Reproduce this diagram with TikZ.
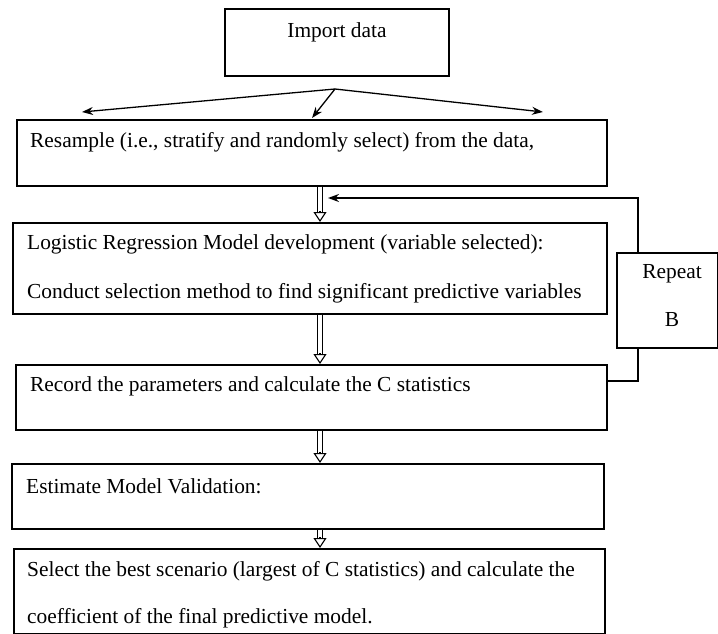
\documentclass[tikz,border=0pt]{standalone}
\usepackage{fontspec}
\setmainfont{Liberation Serif}
\usetikzlibrary{arrows.meta}
\begin{document}
\begin{tikzpicture}[x=1pt,y=-1pt,
  box/.style={draw, line width=1.7pt, fill=white, inner sep=0pt, anchor=north west},
  txt/.style={font=\fontsize{21.4}{24}\selectfont, inner sep=0pt, anchor=west, text height=14pt, text depth=4pt},
  ctxt/.style={txt, anchor=center},
  thinarrow/.style={line width=1.3pt, -{Stealth[length=11pt,width=8pt]}},
  fbline/.style={line width=1.6pt, -{Stealth[length=11pt,width=8pt]}},
  dblshaft/.style={double, double distance=4.5pt, line width=1.1pt, shorten >=9pt},
  dblhead/.style={line width=1.1pt, -{Triangle[open,fill=white,length=10pt,width=13pt]}}
]
\useasboundingbox (0,0) rectangle (718,634);

% feedback loop corner and end
\coordinate (fbc) at (638,198);
\coordinate (fbend) at (328,198);

% boxes
\node[box, minimum width=224pt, minimum height=67pt] (imp) at (224,8) {};
\node[box, minimum width=590pt, minimum height=66pt] (rs) at (16,119) {};
\node[box, minimum width=594pt, minimum height=91pt] (lr) at (12,222) {};
\node[box, minimum width=591pt, minimum height=65pt] (rc) at (15,364) {};
\node[box, minimum width=592pt, minimum height=65pt] (em) at (11,463) {};
\node[box, minimum width=591pt, minimum height=85pt] (sb) at (13,548) {};

\draw[fbline] ([yshift=16.5pt]rc.east) -| (fbc) -- (fbend);
\node[box, minimum width=101pt, minimum height=95pt] (rp) at (616,252) {};

% texts
\node[ctxt] (impt) at (337,32.5) {Import data};
\node[txt] (rst) at (30,142.5) {Resample (i.e., stratify and randomly select) from the data,};
\node[txt] (lrt1) at (27,244.5) {Logistic Regression Model development (variable selected):};
\node[txt] (lrt2) at (27,293.5) {Conduct selection method to find significant predictive variables};
\node[txt] (rct) at (30,386.5) {Record the parameters and calculate the C statistics};
\node[txt] (emt) at (26,488.5) {Estimate Model Validation:};
\node[txt] (sbt1) at (27,571.5) {Select the best scenario (largest of C statistics) and calculate the};
\node[txt] (sbt2) at (27,618.5) {coefficient of the final predictive model.};
\node[ctxt] (rpt1) at (672,273.5) {Repeat};
\node[ctxt] (rpt2) at (672,321.5) {B};

% fan of arrows from Import data
\coordinate (apex) at (335,89);
\coordinate (tipL) at (82,112);
\coordinate (tipM) at (312,118);
\coordinate (tipR) at (543,112);
\draw[thinarrow] (apex) -- (tipL);
\draw[thinarrow] (apex) -- (tipM);
\draw[thinarrow] (apex) -- (tipR);

% hollow double arrows
\coordinate (ax) at (320,0);
\foreach \a/\b in {rs/lr, lr/rc, rc/em, em/sb}{
  \draw[dblshaft] (\a.south -| ax) -- (\b.north -| ax);
  \draw[dblhead] ([yshift=11pt]\b.north -| ax) -- (\b.north -| ax);
}
\end{tikzpicture}
\end{document}
